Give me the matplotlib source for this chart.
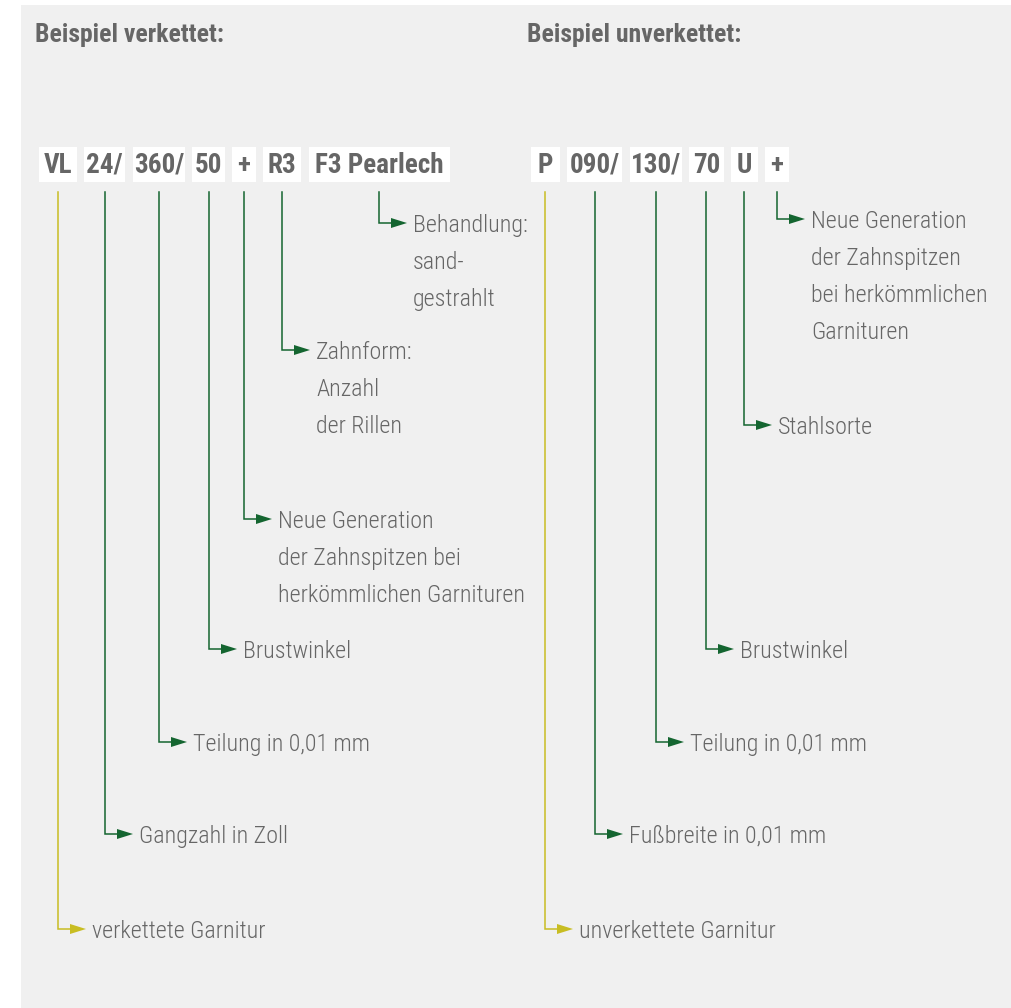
import matplotlib.pyplot as plt
from matplotlib import font_manager
from matplotlib.patches import Rectangle, Polygon

TEXT_GRAY = "#666666"
GREEN = "#146530"
YELLOW = "#c8bd22"
PANEL = "#f0f0f0"

titles = ["Beispiel verkettet:", "Beispiel unverkettet:"]

left_codes = ["VL", "24/", "360/", "50", "+", "R3", "F3 Pearlech"]
left_labels = [
    ["verkettete Garnitur"],
    ["Gangzahl in Zoll"],
    ["Teilung in 0,01 mm"],
    ["Brustwinkel"],
    ["Neue Generation", "der Zahnspitzen bei", "herkömmlichen Garnituren"],
    ["Zahnform:", "Anzahl", "der Rillen"],
    ["Behandlung:", "sand-", "gestrahlt"],
]

right_codes = ["P", "090/", "130/", "70", "U", "+"]
right_labels = [
    ["unverkettete Garnitur"],
    ["Fußbreite in 0,01 mm"],
    ["Teilung in 0,01 mm"],
    ["Brustwinkel"],
    ["Stahlsorte"],
    ["Neue Generation", "der Zahnspitzen", "bei herkömmlichen", "Garnituren"],
]

# layout, in pixels (y grows downward)
left_boxes = [(39, 77), (84, 125), (133, 185), (192, 225), (232, 256), (263, 301), (309, 450)]
left_stems = [58, 105, 159, 209, 244, 282, 379]
left_arrow_y = [929, 834, 742, 649, 519, 350, 223]

right_boxes = [(531, 560), (567, 622), (630, 682), (689, 724), (731, 758), (765, 789)]
right_stems = [545, 595, 656, 706, 744, 777]
right_arrow_y = [929, 834, 742, 649, 425, 219]

title_x = [35, 527]
BOX_TOP, BOX_BOTTOM = 147, 182
STEM_TOP = 192
LINE_STEP = 37


def pick_font():
    # prefer a narrow face, the reference uses a condensed grotesque
    entries = font_manager.fontManager.ttflist
    names = {e.name for e in entries}
    for name in ["Roboto Condensed", "Liberation Sans Narrow", "Open Sans Condensed",
                 "Noto Sans Condensed", "DejaVu Sans Condensed"]:
        if name in names:
            return name, "normal"
    for e in entries:
        if str(e.stretch) in ("condensed", "semi-condensed") and e.name in (
                "DejaVu Sans", "Noto Sans", "Open Sans", "Roboto", "Liberation Sans"):
            return e.name, str(e.stretch)
    for name in ["Roboto", "Liberation Sans"]:
        if name in names:
            return name, "normal"
    return "DejaVu Sans", "normal"


FAMILY, STRETCH = pick_font()
plt.rcParams["font.family"] = [FAMILY, "DejaVu Sans"]
LABEL_WEIGHT = "light"

fig = plt.figure(figsize=(10.11, 10.08), dpi=100)
renderer = fig.canvas.get_renderer()


def fit_size(text, target_px, weight):
    t = fig.text(0, 0, text, fontsize=20, fontweight=weight, fontstretch=STRETCH)
    w = t.get_window_extent(renderer).width
    t.remove()
    return 20 * target_px / w


TITLE_SIZE = fit_size("Beispiel verkettet:", 187, "bold")
CODE_SIZE = fit_size("F3 Pearlech", 128, "bold")
LABEL_SIZE = fit_size("verkettete Garnitur", 173, LABEL_WEIGHT)

ax = fig.add_axes([0, 0, 1, 1])
ax.set_xlim(0, 1011)
ax.set_ylim(1008, 0)
ax.axis("off")


def draw_group(ax, codes, labels, boxes, stems, arrow_ys):
    for i, (code, lines, (x0, x1), sx, ay) in enumerate(zip(codes, labels, boxes, stems, arrow_ys)):
        color = YELLOW if i == 0 else GREEN
        ax.add_patch(Rectangle((x0, BOX_TOP), x1 - x0, BOX_BOTTOM - BOX_TOP,
                               facecolor="white", edgecolor="none", zorder=2))
        ax.text((x0 + x1) / 2, 173, code, ha="center", va="baseline", fontsize=CODE_SIZE,
                fontweight="bold", fontstretch=STRETCH, color=TEXT_GRAY, zorder=3)
        ax.plot([sx, sx, sx + 13], [STEM_TOP, ay, ay], color=color, lw=1.1,
                solid_joinstyle="miter", zorder=2)
        ax.add_patch(Polygon([(sx + 12, ay - 5), (sx + 28, ay), (sx + 12, ay + 5)],
                             closed=True, facecolor=color, edgecolor="none", zorder=3))
        for k, line in enumerate(lines):
            ax.text(sx + 34, ay + 9 + k * LINE_STEP, line, ha="left", va="baseline",
                    fontsize=LABEL_SIZE, fontweight=LABEL_WEIGHT, fontstretch=STRETCH,
                    color=TEXT_GRAY, zorder=3)


ax.add_patch(Rectangle((21, 5), 1011 - 21, 1008 - 5, facecolor=PANEL, edgecolor="none", zorder=0))

for tx, title in zip(title_x, titles):
    ax.text(tx, 42, title, ha="left", va="baseline", fontsize=TITLE_SIZE,
            fontweight="bold", fontstretch=STRETCH, color=TEXT_GRAY)

draw_group(ax, left_codes, left_labels, left_boxes, left_stems, left_arrow_y)
draw_group(ax, right_codes, right_labels, right_boxes, right_stems, right_arrow_y)

fig.savefig("out.png", dpi=100, facecolor="white")
